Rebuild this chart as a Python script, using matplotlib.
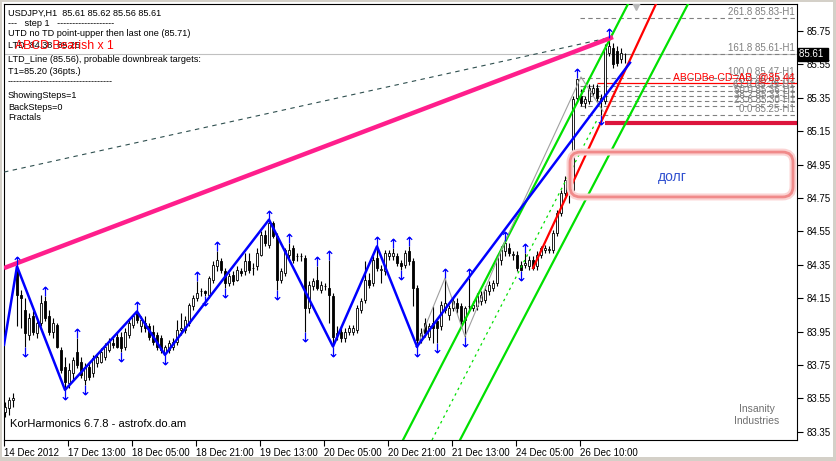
import numpy as np
import matplotlib
matplotlib.use("Agg")
import matplotlib.pyplot as plt
from matplotlib.patches import FancyBboxPatch, Rectangle
from matplotlib.path import Path
import matplotlib.transforms as mtransforms

plt.rcParams['font.family'] = ['Liberation Sans', 'DejaVu Sans']

# ---- H1 candles (bar index 0..155) ----
opens = [83.47, 83.49, 83.54, 84.32, 84.17, 84.08, 83.93, 84.04, 83.94, 84.00,
         84.13, 84.04, 83.95, 83.99, 83.84, 83.74, 83.64, 83.70, 83.83, 83.77,
         83.66, 83.74, 83.70, 83.76, 83.77, 83.80, 83.84, 83.88, 83.92, 83.92,
         83.86, 83.93, 83.99, 84.06, 83.98, 84.00, 83.98, 83.95, 83.93, 83.91,
         83.82, 83.84, 83.86, 83.89, 83.96, 83.96, 84.00, 84.10, 84.15, 84.19,
         84.19, 84.17, 84.26, 84.34, 84.37, 84.31, 84.24, 84.29, 84.26, 84.31,
         84.31, 84.37, 84.33, 84.34, 84.41, 84.53, 84.47, 84.60, 84.52, 84.26,
         84.30, 84.41, 84.45, 84.40, 84.40, 84.39, 84.09, 84.22, 84.26, 84.20,
         84.22, 84.21, 84.16, 83.93, 83.95, 83.91, 83.95, 83.95, 83.96, 84.08,
         84.14, 84.26, 84.24, 84.39, 84.32, 84.31, 84.40, 84.40, 84.40, 84.36,
         84.35, 84.43, 84.37, 84.21, 83.90, 84.00, 83.92, 84.00, 84.01, 83.98,
         84.08, 84.05, 84.09, 84.12, 84.10, 84.02, 84.10, 84.09, 84.10, 84.13,
         84.14, 84.19, 84.21, 84.24, 84.38, 84.43, 84.45, 84.41, 84.41, 84.35,
         84.35, 84.34, 84.38, 84.34, 84.41, 84.44, 84.44, 84.44, 84.54, 84.66,
         84.78, 84.86, 84.80, 85.35, 85.36, 85.32, 85.33, 85.38, 85.41, 85.33,
         85.33, 85.62, 85.65, 85.63, 85.58, 85.61]
highs = [83.53, 83.56, 83.58, 84.34, 84.20, 84.15, 84.06, 84.07, 84.01, 84.17,
         84.16, 84.08, 84.03, 84.00, 83.86, 83.80, 83.76, 83.80, 83.91, 83.80,
         83.76, 83.77, 83.81, 83.82, 83.85, 83.88, 83.91, 83.91, 83.94, 83.95,
         83.97, 84.02, 84.05, 84.07, 84.04, 84.04, 84.00, 83.99, 83.95, 83.93,
         83.87, 83.90, 83.91, 84.02, 84.06, 84.04, 84.12, 84.17, 84.25, 84.21,
         84.20, 84.28, 84.37, 84.43, 84.39, 84.33, 84.30, 84.31, 84.34, 84.33,
         84.42, 84.42, 84.36, 84.45, 84.55, 84.56, 84.62, 84.61, 84.54, 84.33,
         84.45, 84.48, 84.47, 84.42, 84.42, 84.41, 84.25, 84.27, 84.34, 84.25,
         84.24, 84.38, 84.18, 83.98, 83.98, 83.97, 83.99, 83.99, 84.11, 84.15,
         84.37, 84.30, 84.40, 84.46, 84.35, 84.44, 84.44, 84.45, 84.42, 84.38,
         84.44, 84.46, 84.39, 84.23, 83.97, 84.03, 84.00, 84.10, 84.03, 84.13,
         84.27, 84.11, 84.15, 84.15, 84.12, 84.10, 84.27, 84.13, 84.18, 84.19,
         84.22, 84.25, 84.26, 84.41, 84.46, 84.49, 84.48, 84.43, 84.43, 84.37,
         84.42, 84.40, 84.40, 84.43, 84.46, 84.47, 84.46, 84.56, 84.68, 84.80,
         84.88, 84.87, 85.36, 85.47, 85.40, 85.36, 85.43, 85.43, 85.43, 85.37,
         85.67, 85.71, 85.68, 85.66, 85.65, 85.62]
lows = [83.44, 83.45, 83.50, 83.98, 83.97, 83.86, 83.90, 83.93, 83.91, 83.98,
        84.01, 83.93, 83.91, 83.85, 83.70, 83.60, 83.61, 83.66, 83.73, 83.67,
        83.63, 83.66, 83.68, 83.74, 83.76, 83.78, 83.83, 83.85, 83.85, 83.83,
        83.84, 83.91, 83.97, 84.00, 83.95, 83.95, 83.90, 83.87, 83.84, 83.82,
        83.81, 83.82, 83.84, 83.87, 83.93, 83.94, 83.98, 84.08, 84.13, 84.16,
        84.16, 84.15, 84.24, 84.31, 84.30, 84.21, 84.22, 84.23, 84.25, 84.28,
        84.29, 84.30, 84.29, 84.32, 84.40, 84.46, 84.45, 84.51, 84.20, 84.24,
        84.28, 84.39, 84.36, 84.37, 84.37, 83.95, 84.06, 84.20, 84.20, 84.18,
        84.20, 84.00, 83.86, 83.90, 83.89, 83.89, 83.93, 83.93, 83.94, 84.06,
        84.12, 84.21, 84.22, 84.31, 84.24, 84.29, 84.38, 84.38, 84.34, 84.32,
        84.33, 84.35, 84.10, 83.86, 83.88, 83.92, 83.90, 83.88, 83.88, 83.96,
        84.06, 84.02, 84.07, 84.06, 83.98, 83.92, 84.07, 84.07, 84.08, 84.11,
        84.12, 84.17, 84.19, 84.22, 84.35, 84.40, 84.40, 84.38, 84.31, 84.31,
        84.33, 84.32, 84.32, 84.32, 84.39, 84.42, 84.42, 84.42, 84.52, 84.64,
        84.76, 84.72, 84.78, 85.33, 85.30, 85.29, 85.31, 85.36, 85.33, 85.25,
        85.31, 85.60, 85.53, 85.54, 85.56, 85.56]
closes = [83.50, 83.54, 83.55, 84.17, 84.15, 83.94, 84.03, 83.95, 84.00, 84.12,
          84.03, 83.95, 84.00, 83.86, 83.72, 83.65, 83.72, 83.78, 83.75, 83.69,
          83.74, 83.68, 83.79, 83.80, 83.83, 83.86, 83.89, 83.87, 83.86, 83.85,
          83.95, 84.00, 84.04, 84.02, 84.02, 83.97, 83.92, 83.89, 83.86, 83.84,
          83.86, 83.88, 83.89, 83.96, 83.97, 84.02, 84.11, 84.15, 84.18, 84.19,
          84.18, 84.27, 84.35, 84.38, 84.32, 84.24, 84.28, 84.25, 84.32, 84.30,
          84.37, 84.32, 84.33, 84.42, 84.53, 84.48, 84.60, 84.52, 84.26, 84.31,
          84.44, 84.44, 84.38, 84.40, 84.40, 84.09, 84.23, 84.25, 84.21, 84.23,
          84.22, 84.17, 83.92, 83.94, 83.91, 83.95, 83.97, 83.97, 84.09, 84.13,
          84.26, 84.23, 84.38, 84.33, 84.32, 84.42, 84.42, 84.42, 84.36, 84.34,
          84.42, 84.37, 84.21, 83.90, 83.94, 83.94, 83.98, 83.97, 83.97, 84.11,
          84.12, 84.09, 84.13, 84.09, 84.01, 84.09, 84.10, 84.11, 84.16, 84.17,
          84.20, 84.23, 84.24, 84.39, 84.44, 84.48, 84.42, 84.41, 84.33, 84.32,
          84.36, 84.38, 84.33, 84.41, 84.45, 84.45, 84.44, 84.54, 84.66, 84.78,
          84.86, 84.79, 85.34, 85.46, 85.32, 85.34, 85.41, 85.41, 85.35, 85.35,
          85.65, 85.66, 85.55, 85.56, 85.62, 85.61]

up_fractal_bars = [3, 10, 18, 33, 48, 53, 66, 71, 78, 81, 93, 97, 101, 110, 116, 125, 130, 143, 151]
down_fractal_bars = [5, 15, 20, 29, 40, 50, 55, 68, 75, 82, 99, 103, 108, 115, 129, 149]

# zigzag and drawn lines (bar, price)
zigzag_bars = [-0.25, 3, 15, 33, 40, 66, 82, 93, 103]
zigzag_prices = [83.87, 84.34, 83.60, 84.07, 83.81, 84.62, 83.86, 84.46, 83.86]
ltd_line = ([103, 156.25], [83.86, 85.56])
utd_line = ([-0.25, 152], [84.33, 85.714])
dash_line = ([-0.25, 151.75], [84.905, 85.714])
gray_zz_bars = [103, 110, 115, 125, 144, 149.5]
gray_zz_prices = [83.86, 84.27, 83.92, 84.49, 85.475, 85.27]
green_a = ([99.5, 155.75], [83.30, 85.912])
green_b = ([113.75, 170.75], [83.30, 85.912])
green_mid = ([106.75, 148.25], [83.30, 85.229])
red_line = ([132, 162.75], [84.33, 85.912])

fib_levels = [261.8, 161.8, 100.0, 76.4, 61.8, 50.0, 38.2, 23.6, 0.0]
fib_prices = [85.83, 85.61, 85.47, 85.42, 85.39, 85.36, 85.33, 85.30, 85.25]
abcd_price = 85.44
target_price = 85.20
bid = 85.61

xtick_labels = ["14 Dec 2012", "17 Dec 13:00", "18 Dec 05:00", "18 Dec 21:00", "19 Dec 13:00",
                "20 Dec 05:00", "20 Dec 21:00", "21 Dec 13:00", "24 Dec 05:00", "26 Dec 10:00"]

info_lines = ["USDJPY,H1  85.61 85.62 85.56 85.61",
              "---   step 1   -------------------",
              "UTD no TD point-upper then last one (85.71)",
              "LTD  84.38  85.25",
              "LTD_Line (85.56), probable downbreak targets:",
              "T1=85.20 (36pts.)",
              "-----------------------------------",
              "ShowingSteps=1",
              "BackSteps=0",
              "Fractals"]
info_y = [13, 23, 34, 46, 59, 71, 82, 95, 107, 118]

W, H = 837, 461
fig = plt.figure(figsize=(W / 100, H / 100), dpi=100, facecolor='#d4d0c8')
fig.add_artist(Rectangle((2 / W, 4 / H), 831 / W, 455 / H, transform=fig.transFigure,
                         facecolor='white', edgecolor='none', zorder=0))
ax = fig.add_axes([4 / W, (H - 440) / H, 793 / W, 436 / H])
ax.set_xlim(-0.25, 198)
ax.set_ylim(83.300, 85.912)

o = np.array(opens); hi = np.array(highs); lo = np.array(lows); c = np.array(closes)
x = np.arange(len(o))
up = c >= o

# fib levels / horizontals
ax.axhline(bid, color='#c0c0c0', lw=0.8, zorder=1)
ax.hlines(fib_prices, 143.75, 198, colors='#808080', linestyles=(0, (4, 3)), lw=0.8, zorder=1)
for lvl, p in zip(fib_levels, fib_prices):
    ax.text(197.5, p + 0.006, f"{lvl:.1f} {p:.2f}-H1", color='#808080', fontsize=7,
            ha='right', va='bottom', zorder=6)
ax.hlines(abcd_price, 148, 198, colors='red', lw=0.9, zorder=2)
ax.text(197.5, abcd_price + 0.004, "ABCDBe CD=AB  @85.44", color='red', fontsize=7.5,
        ha='right', va='bottom', zorder=6)
ax.hlines(target_price, 150, 198, colors='#dc143c', lw=3, zorder=2)

# candles
ax.vlines(x, lo, hi, color='black', lw=0.8, zorder=3)
ax.bar(x, np.maximum(np.abs(c - o), 0.002), width=0.55, bottom=np.minimum(o, c),
       color=np.where(up, 'white', 'black'), edgecolor='black', linewidth=0.6, zorder=3)

# channel and trend lines
ax.plot(*green_a, color='#00e000', lw=1.6, zorder=4)
ax.plot(*green_b, color='#00e000', lw=1.6, zorder=4)
ax.plot(*green_mid, color='#00e000', lw=0.9, ls=(0, (2, 3)), zorder=4)
ax.plot(gray_zz_bars, gray_zz_prices, color='#a0a0a0', lw=0.8, zorder=4)
ax.plot(*red_line, color='red', lw=1.6, zorder=5)
ax.plot(zigzag_bars, zigzag_prices, color='#0000ff', lw=1.8, zorder=5)
ax.plot(*ltd_line, color='#0000ff', lw=1.8, zorder=5)
ax.plot(*dash_line, color='#2f4f4f', lw=0.8, ls=(0, (4, 4)), zorder=5)
ax.plot(*utd_line, color='#ff1e8c', lw=3.2, zorder=6, solid_capstyle='butt')

# fractal arrows
up_arrow = Path([(0, -1), (0, 0.9), (-0.55, 0.35), (0, 0.9), (0.55, 0.35)],
                [Path.MOVETO, Path.LINETO, Path.MOVETO, Path.LINETO, Path.LINETO])
dn_arrow = Path([(0, 1), (0, -0.9), (-0.55, -0.35), (0, -0.9), (0.55, -0.35)],
                [Path.MOVETO, Path.LINETO, Path.MOVETO, Path.LINETO, Path.LINETO])
ax.plot(up_fractal_bars, hi[up_fractal_bars] + 0.03, ls='none', marker=up_arrow, ms=7,
        mfc='none', mec='#0000ff', mew=0.9, zorder=6)
ax.plot(down_fractal_bars, lo[down_fractal_bars] - 0.03, ls='none', marker=dn_arrow, ms=7,
        mfc='none', mec='#0000ff', mew=0.9, zorder=6)
ax.plot([157.75], [85.905], ls='none', marker='v', ms=7, color='#b8b8b8', zorder=4)

# rounded "долг" box
for lw, col in [(5, '#fbd3d3'), (2, '#f08a8a')]:
    ax.add_patch(FancyBboxPatch((141.25, 84.756), 55.75, 0.269,
                                boxstyle="round,pad=0,rounding_size=2.6", mutation_aspect=0.024,
                                fill=False, edgecolor=col, lw=lw, zorder=7))
ax.text(166.75, 84.876, "долг", color='#3050d0', fontsize=10, ha='center', va='center', zorder=7)

# texts
for t, yy in zip(info_lines, info_y):
    fig.text(8 / W, 1 - yy / H, t, fontsize=6.6, va='center', ha='left', color='black')
fig.text(15 / W, 1 - 46 / H, "ABCD Bearish x 1", fontsize=8.8, va='center', ha='left', color='red')
fig.text(10 / W, 1 - 424 / H, "KorHarmonics 6.7.8 - astrofx.do.am", fontsize=8, va='center',
         ha='left', color='black')
fig.text(757 / W, 1 - 409 / H, "Insanity", fontsize=7.5, va='center', ha='center', color='#707070')
fig.text(757 / W, 1 - 421 / H, "Industries", fontsize=7.5, va='center', ha='center', color='#707070')

# axes
for s in ax.spines.values():
    s.set_linewidth(0.8)
    s.set_color('black')
ax.yaxis.tick_right()
yt = np.round(np.arange(83.35, 85.76, 0.2), 2)
ax.set_yticks(yt)
ax.set_yticklabels([f"{v:.2f}" for v in yt])
ax.tick_params(axis='y', length=4, width=0.8, pad=3, labelsize=7)
ax.set_xticks([16 * k - 0.25 for k in range(len(xtick_labels))])
ax.set_xticklabels(xtick_labels, ha='left')
ax.tick_params(axis='x', length=4, width=0.8, pad=2, labelsize=7)

blend = mtransforms.blended_transform_factory(ax.transAxes, ax.transData)
ax.text(1.003, bid, "85.61 ", transform=blend, ha='left', va='center', fontsize=7, color='white',
        bbox=dict(boxstyle='square,pad=0.15', facecolor='black', edgecolor='black'), zorder=8,
        clip_on=False)

fig.savefig("out.png", dpi=100, facecolor=fig.get_facecolor())
